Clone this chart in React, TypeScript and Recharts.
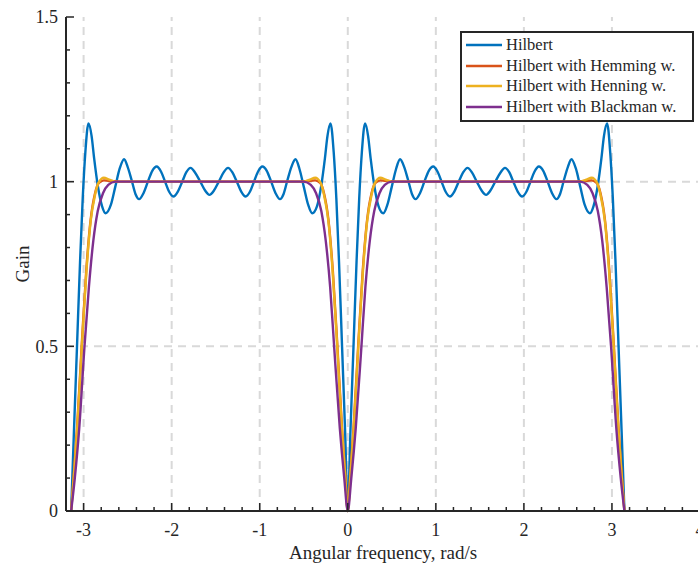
import React from "react";
import { LineChart, Line, XAxis, YAxis, ReferenceLine, Label } from "recharts";

// frequencies (rad/s) and gains read for 0..pi, the plot is even so the negative half mirrors it
const FREQ_HILBERT = [
  0, 0.03, 0.065, 0.1, 0.13, 0.16, 0.196, 0.23, 0.26, 0.3, 0.35, 0.404, 0.45, 0.5, 0.55, 0.594,
  0.64, 0.685, 0.73, 0.77, 0.82, 0.87, 0.92, 0.97, 1.02, 1.065, 1.11, 1.16, 1.21, 1.26, 1.31,
  1.36, 1.41, 1.465, 1.52, 1.571, 1.62, 1.675, 1.735, 1.785, 1.835, 1.88, 1.93, 1.98, 2.03,
  2.075, 2.12, 2.17, 2.22, 2.27, 2.32, 2.37, 2.41, 2.455, 2.5, 2.54, 2.59, 2.64, 2.69, 2.75,
  2.79, 2.84, 2.88, 2.91, 2.945, 2.98, 3.01, 3.04, 3.075, 3.11, 3.1416,
];
const GAIN_HILBERT = [
  0, 0.24, 0.5, 0.76, 0.95, 1.09, 1.177, 1.14, 1.07, 0.99, 0.925, 0.904, 0.93, 0.985, 1.04, 1.068,
  1.045, 1.005, 0.962, 0.947, 0.965, 1.0, 1.033, 1.046, 1.03, 1.0, 0.97, 0.955, 0.97, 1.0, 1.028,
  1.042, 1.028, 1.0, 0.973, 0.96, 0.973, 1.0, 1.028, 1.042, 1.028, 1.0, 0.97, 0.955, 0.97,
  1.0, 1.03, 1.046, 1.033, 1.0, 0.965, 0.947, 0.962, 1.005, 1.045, 1.068, 1.04, 0.985, 0.93, 0.904,
  0.925, 0.99, 1.07, 1.14, 1.177, 1.09, 0.95, 0.76, 0.5, 0.24, 0,
];

const FREQ_HAMMING = [
  0, 0.03, 0.065, 0.12, 0.17, 0.22, 0.27, 0.31, 0.37, 0.45, 0.55, 1.571, 2.59, 2.69, 2.77, 2.83,
  2.87, 2.92, 2.97, 3.02, 3.075, 3.11, 3.1416,
];
const GAIN_HAMMING = [
  0, 0.115, 0.25, 0.51, 0.73, 0.885, 0.965, 0.995, 1.004, 1.002, 1.0, 1.0, 1.0, 1.002, 1.004, 0.995,
  0.965, 0.885, 0.73, 0.51, 0.25, 0.115, 0,
];

const FREQ_HANNING = [
  0, 0.03, 0.065, 0.12, 0.17, 0.22, 0.27, 0.31, 0.37, 0.43, 0.5, 1.571, 2.64, 2.71, 2.77, 2.83,
  2.87, 2.92, 2.97, 3.02, 3.075, 3.11, 3.1416,
];
const GAIN_HANNING = [
  0, 0.11, 0.24, 0.5, 0.72, 0.88, 0.96, 0.997, 1.012, 1.006, 1.0, 1.0, 1.0, 1.006, 1.012, 0.997,
  0.96, 0.88, 0.72, 0.5, 0.24, 0.11, 0,
];

const FREQ_BLACKMAN = [
  0, 0.04, 0.09, 0.155, 0.2, 0.25, 0.3, 0.36, 0.42, 0.5, 1.571, 2.64, 2.72, 2.78, 2.84, 2.89,
  2.94, 2.99, 3.05, 3.1, 3.1416,
];
const GAIN_BLACKMAN = [
  0, 0.1, 0.25, 0.5, 0.68, 0.82, 0.91, 0.965, 0.99, 1.0, 1.0, 1.0, 0.99, 0.965, 0.91, 0.82,
  0.68, 0.5, 0.25, 0.1, 0,
];

const X_TICKS = [
  -3.2, -3, -2.8, -2.6, -2.4, -2.2, -2, -1.8, -1.6, -1.4, -1.2, -1, -0.8, -0.6, -0.4, -0.2, 0,
  0.2, 0.4, 0.6, 0.8, 1, 1.2, 1.4, 1.6, 1.8, 2, 2.2, 2.4, 2.6, 2.8, 3, 3.2, 3.4, 3.6, 3.8, 4,
];
const X_GRID = [-3, -2, -1, 0, 1, 2, 3];
const Y_TICKS = [0, 0.1, 0.2, 0.3, 0.4, 0.5, 0.6, 0.7, 0.8, 0.9, 1, 1.1, 1.2, 1.3, 1.4, 1.5];
const Y_GRID = [0.5, 1];

const SERIES = [
  { name: "Hilbert", color: "#0072BD", freq: FREQ_HILBERT, gain: GAIN_HILBERT },
  { name: "Hilbert with Hemming w.", color: "#D95319", freq: FREQ_HAMMING, gain: GAIN_HAMMING },
  { name: "Hilbert with Henning w.", color: "#EDB120", freq: FREQ_HANNING, gain: GAIN_HANNING },
  { name: "Hilbert with Blackman w.", color: "#7E2F8E", freq: FREQ_BLACKMAN, gain: GAIN_BLACKMAN },
];

const FONT = "'Liberation Serif', 'Times New Roman', serif";
const INK = "#262626";

function buildRows(freq: number[], gain: number[]) {
  const rows: { x: number; y: number }[] = [];
  for (let i = freq.length - 1; i > 0; i--) rows.push({ x: -freq[i], y: gain[i] });
  for (let i = 0; i < freq.length; i++) rows.push({ x: freq[i], y: gain[i] });
  return rows;
}

const isMajor = (v: number, step: number) => Math.abs(v / step - Math.round(v / step)) < 1e-6;

function XTick({ x, y, payload }: any) {
  const v = payload.value as number;
  const major = isMajor(v, 1);
  return (
    <g>
      <line x1={x} x2={x} y1={y} y2={y - (major ? 8 : 4)} stroke={INK} strokeWidth={1.5} />
      {major && (
        <text x={x} y={y + 25} textAnchor="middle" fontFamily={FONT} fontSize={18} fill={INK}>
          {v}
        </text>
      )}
    </g>
  );
}

function YTick({ x, y, payload }: any) {
  const v = payload.value as number;
  const major = isMajor(v, 0.5);
  return (
    <g>
      <line x1={x} x2={x + (major ? 8 : 4)} y1={y} y2={y} stroke={INK} strokeWidth={1.5} />
      {major && (
        <text x={x - 8} y={y} dy="0.35em" textAnchor="end" fontFamily={FONT} fontSize={18} fill={INK}>
          {v}
        </text>
      )}
    </g>
  );
}

export default function App() {
  return (
    <div style={{ position: "absolute", left: 0, top: 0, width: 698, height: 565, overflow: "hidden", background: "#fff" }}>
      <LineChart width={702} height={565} margin={{ top: 17, right: 2, bottom: 0, left: 0 }}>
        <XAxis
          dataKey="x"
          type="number"
          domain={[-3.2, 4]}
          ticks={X_TICKS}
          interval={0}
          allowDataOverflow
          height={54}
          tickSize={0}
          tickMargin={0}
          tickLine={false}
          tick={<XTick />}
          axisLine={{ stroke: INK, strokeWidth: 2 }}
        >
          <Label
            content={({ viewBox }: any) => (
              <text
                x={viewBox.x + viewBox.width / 2}
                y={viewBox.y + 48}
                textAnchor="middle"
                fontFamily={FONT}
                fontSize={19}
                fill={INK}
              >
                Angular frequency, rad/s
              </text>
            )}
          />
        </XAxis>
        <YAxis
          type="number"
          domain={[0, 1.5]}
          ticks={Y_TICKS}
          interval={0}
          width={66}
          tickSize={0}
          tickMargin={0}
          tickLine={false}
          tick={<YTick />}
          axisLine={{ stroke: INK, strokeWidth: 2 }}
        >
          <Label
            content={({ viewBox }: any) => {
              const cy = viewBox.y + viewBox.height / 2;
              return (
                <text
                  x={22}
                  y={cy}
                  transform={`rotate(-90 22 ${cy})`}
                  textAnchor="middle"
                  dy="0.35em"
                  fontFamily={FONT}
                  fontSize={19}
                  fill={INK}
                >
                  Gain
                </text>
              );
            }}
          />
        </YAxis>
        {X_GRID.map((v) => (
          <ReferenceLine key={"gx" + v} x={v} stroke="#d9d9d9" strokeWidth={2} strokeDasharray="8 6" />
        ))}
        {Y_GRID.map((v) => (
          <ReferenceLine key={"gy" + v} y={v} stroke="#d9d9d9" strokeWidth={2} strokeDasharray="8 6" />
        ))}
        {SERIES.map((s) => (
          <Line
            key={s.name}
            data={buildRows(s.freq, s.gain)}
            dataKey="y"
            name={s.name}
            type="monotone"
            stroke={s.color}
            strokeWidth={2.4}
            dot={false}
            isAnimationActive={false}
          />
        ))}
      </LineChart>
      <div
        style={{
          position: "absolute",
          left: 460,
          top: 31,
          width: 230,
          padding: "2px 0 3px 0",
          border: "2px solid #262626",
          background: "#fff",
          fontFamily: FONT,
          fontSize: 16.5,
          color: INK,
        }}
      >
        {SERIES.map((s) => (
          <div key={s.name} style={{ display: "flex", alignItems: "center", height: 20.5 }}>
            <svg width={44} height={10} style={{ flex: "none" }}>
              <line x1={4} x2={40} y1={5} y2={5} stroke={s.color} strokeWidth={2.5} />
            </svg>
            <span style={{ whiteSpace: "nowrap" }}>{s.name}</span>
          </div>
        ))}
      </div>
    </div>
  );
}
